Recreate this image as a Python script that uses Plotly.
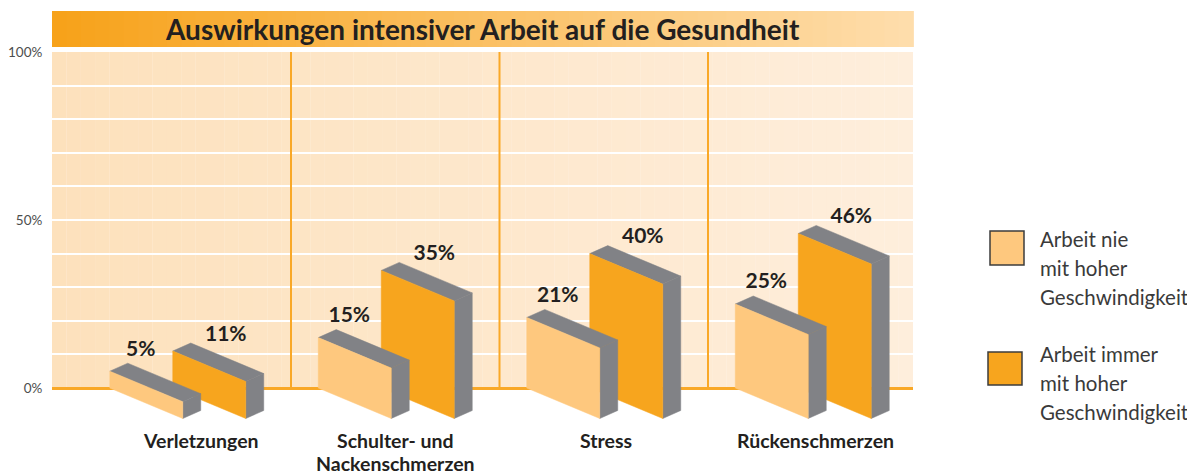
import plotly.graph_objects as go

# ---------------- data ----------------
categories = ["Verletzungen", "Schulter- und\nNackenschmerzen", "Stress", "Rückenschmerzen"]
never_high_speed = [5, 15, 21, 25]      # Arbeit nie mit hoher Geschwindigkeit
always_high_speed = [11, 35, 40, 46]    # Arbeit immer mit hoher Geschwindigkeit
series_names = ["Arbeit nie\nmit hoher\nGeschwindigkeit", "Arbeit immer\nmit hoher\nGeschwindigkeit"]
y_tick_values = [0, 50, 100]
y_tick_labels = ["0%", "50%", "100%"]
title_text = "Auswirkungen intensiver Arbeit auf die Gesundheit"

# ---------------- styling / geometry ----------------
# the page body has an 8px margin, so the figure is 8px smaller than the window
W_FIG, H_FIG = 1187, 467
M_L, M_R, M_T, M_B = 44, 282, 44, 5
PLOT_W = W_FIG - M_L - M_R   # 861
PLOT_H = H_FIG - M_T - M_B   # 418
PAGE_L, PAGE_B = 52, 470     # page pixels of plot-area left / bottom
PX_PER_CAT = 208.5
PX_PER_PCT = 3.36
x_lo = -(186.75 - PAGE_L) / PX_PER_CAT
x_hi = x_lo + PLOT_W / PX_PER_CAT
y_hi = 100
y_lo = y_hi - PLOT_H / PX_PER_PCT

LIGHT = "#FEC87E"
ORANGE = "#F7A51E"
GREY = "#818286"
TEXT = "#231F20"
FONT = "Lato"

bar_w = 73 / PX_PER_CAT
light_off = -77 / PX_PER_CAT
orange_off = 63 / PX_PER_CAT
dep_x = 18 / PX_PER_CAT
dep_y = 8 / PX_PER_PCT
drop = 30.5 / PX_PER_PCT


def px_x(px):
    return (px - PAGE_L) / PLOT_W


def px_y(py):
    return (PAGE_B - py) / PLOT_H


def lerp_color(c1, c2, t):
    a = [int(c1[i:i + 2], 16) for i in (1, 3, 5)]
    b = [int(c2[i:i + 2], 16) for i in (1, 3, 5)]
    return "rgb(%d,%d,%d)" % tuple(round(a[k] + (b[k] - a[k]) * t) for k in range(3))


fig = go.Figure()


def add_box(left, value, face_color):
    L, R = left, left + bar_w
    # side face
    fig.add_trace(go.Scatter(
        x=[R, R + dep_x, R + dep_x, R, R],
        y=[value - drop, value - drop + dep_y, -drop + dep_y, -drop, value - drop],
        fill="toself", fillcolor=GREY, mode="lines", line=dict(color=GREY, width=0.5),
        hoverinfo="skip", showlegend=False))
    # top face
    fig.add_trace(go.Scatter(
        x=[L, L + dep_x, R + dep_x, R, L],
        y=[value, value + dep_y, value - drop + dep_y, value - drop, value],
        fill="toself", fillcolor=GREY, mode="lines", line=dict(color=GREY, width=0.5),
        hoverinfo="skip", showlegend=False))
    # front face
    fig.add_trace(go.Scatter(
        x=[L, R, R, L, L],
        y=[value, value - drop, -drop, 0, value],
        fill="toself", fillcolor=face_color, mode="lines", line=dict(color=face_color, width=0.5),
        hoverinfo="skip", showlegend=False))


for i, (vn, va) in enumerate(zip(never_high_speed, always_high_speed)):
    left_light = i + light_off
    left_orange = left_light + orange_off
    add_box(left_orange, va, ORANGE)
    add_box(left_light, vn, LIGHT)

# value labels
lab_x, lab_y, lab_t = [], [], []
for i, (vn, va) in enumerate(zip(never_high_speed, always_high_speed)):
    left_light = i + light_off
    left_orange = left_light + orange_off
    lab_x += [left_light + 31 / PX_PER_CAT, left_orange + 53 / PX_PER_CAT]
    lab_y += [vn + 6.2, va + 4.6]
    lab_t += [f"{vn}%", f"{va}%"]
fig.add_trace(go.Scatter(x=lab_x, y=lab_y, text=lab_t, mode="text",
                         textposition="middle center",
                         textfont=dict(family=FONT, size=21, color=TEXT, weight="bold"),
                         hoverinfo="skip", showlegend=False))

shapes = []
# panel background gradient (0..100 %)
N = 60
for k in range(N):
    x0 = x_lo + (x_hi - x_lo) * k / N
    x1 = x_lo + (x_hi - x_lo) * (k + 1) / N + 0.001
    shapes.append(dict(type="rect", xref="x", yref="y", x0=x0, x1=x1, y0=0, y1=100,
                       fillcolor=lerp_color("#FDE1BC", "#FEEEDC", k / (N - 1)),
                       line=dict(width=0), layer="below"))
# title band gradient
for k in range(N):
    shapes.append(dict(type="rect", xref="paper", yref="paper",
                       x0=k / N, x1=(k + 1) / N + 0.001, y0=px_y(47), y1=px_y(11),
                       fillcolor=lerp_color("#F7A21A", "#FEDDAB", k / (N - 1)),
                       line=dict(width=0), layer="below"))
# category dividers
for i in range(len(categories) - 1):
    shapes.append(dict(type="line", xref="x", yref="y", x0=i + 0.5, x1=i + 0.5, y0=0, y1=100,
                       line=dict(color="#F9A827", width=2), layer="between"))

# legend boxes (page pixels)
legend_boxes = [(990, 231, 1024, 265, LIGHT), (988, 352, 1022, 385, ORANGE)]
for (x0, y0, x1, y1, col) in legend_boxes:
    shapes.append(dict(type="rect", xref="paper", yref="paper",
                       x0=px_x(x0), x1=px_x(x1), y0=px_y(y1), y1=px_y(y0),
                       fillcolor=col, line=dict(color="#3C3C3C", width=1.5)))

annotations = []
annotations.append(dict(text=f"<b>{title_text}</b>", xref="paper", yref="paper",
                        x=0.5, y=px_y(29), showarrow=False, xanchor="center", yanchor="middle",
                        font=dict(family=FONT, size=28, color=TEXT)))
# category labels
cat_line_y = [440, 463]
cat_dx = [14, 0, 2, 3]
for i, cat in enumerate(categories):
    for j, line in enumerate(cat.split("\n")):
        annotations.append(dict(text=f"<b>{line}</b>", xref="x", yref="paper",
                                x=i + cat_dx[i] / PX_PER_CAT, y=px_y(cat_line_y[j]), showarrow=False,
                                xanchor="center", yanchor="middle",
                                font=dict(family=FONT, size=19.5, color=TEXT)))
# legend texts
legend_text_tops = [239, 354]
for name, ytop in zip(series_names, legend_text_tops):
    for j, line in enumerate(name.split("\n")):
        annotations.append(dict(text=line, xref="paper", yref="paper",
                                x=px_x(1038), y=px_y(ytop + 29 * j), showarrow=False,
                                xanchor="left", yanchor="middle",
                                font=dict(family=FONT, size=20.5, color="#3A3A3A")))

fig.update_layout(
    width=W_FIG, height=H_FIG,
    margin=dict(l=M_L, r=M_R, t=M_T, b=M_B, autoexpand=False),
    paper_bgcolor="white", plot_bgcolor="white",
    shapes=shapes, annotations=annotations,
    xaxis=dict(range=[x_lo, x_hi], showgrid=False, zeroline=False, showticklabels=False,
               ticks="", showline=False, fixedrange=True, automargin=False),
    yaxis=dict(range=[y_lo, y_hi], tickvals=y_tick_values, ticktext=y_tick_labels,
               showgrid=True, gridcolor="white", gridwidth=2,
               minor=dict(dtick=10, tick0=0, showgrid=True, gridcolor="white", gridwidth=2),
               zeroline=True, zerolinecolor="#F9A827", zerolinewidth=3,
               ticks="outside", ticklen=6, tickcolor="rgba(0,0,0,0)",
               tickfont=dict(family=FONT, size=13.5, color="#4D4D4D"),
               showline=False, fixedrange=True, automargin=False),
    showlegend=False,
)

fig.write_html("out.html")
